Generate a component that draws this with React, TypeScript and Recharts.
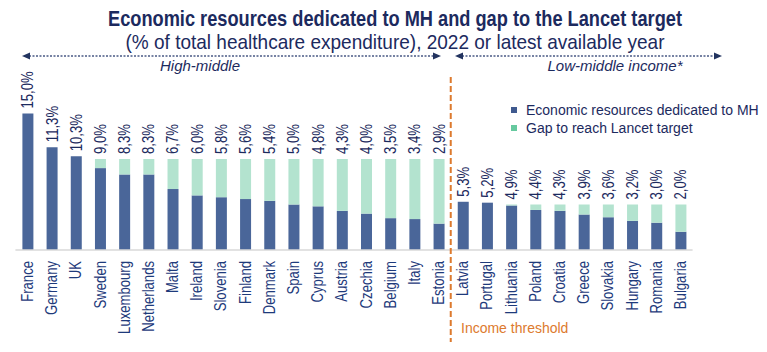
import React from "react";
import { BarChart, Bar, XAxis, YAxis, LabelList } from "recharts";

const categories = [
  "France", "Germany", "UK", "Sweden", "Luxembourg", "Netherlands", "Malta", "Ireland", "Slovenia",
  "Finland", "Denmark", "Spain", "Cyprus", "Austria", "Czechia", "Belgium", "Italy", "Estonia",
  "Latvia", "Portugal", "Lithuania", "Poland", "Croatia", "Greece", "Slovakia", "Hungary", "Romania", "Bulgaria",
];
const mhValues = [
  15.0, 11.3, 10.3, 9.0, 8.3, 8.3, 6.7, 6.0, 5.8, 5.6, 5.4, 5.0, 4.8, 4.3, 4.0, 3.5, 3.4, 2.9,
  5.3, 5.2, 4.9, 4.4, 4.3, 3.9, 3.6, 3.2, 3.0, 2.0,
];
const gapValues = [
  0, 0, 0, 1.0, 1.7, 1.7, 3.3, 4.0, 4.2, 4.4, 4.6, 5.0, 5.2, 5.7, 6.0, 6.5, 6.6, 7.1,
  0, 0, 0.1, 0.6, 0.7, 1.1, 1.4, 1.8, 2.0, 3.0,
];
const seriesNames = ["Economic resources dedicated to MH", "Gap to reach Lancet target"];
const titleText = "Economic resources dedicated to MH and gap to the Lancet target";
const subtitleText = "(% of total healthcare expenditure), 2022 or latest available year";
const groupLabels = ["High-middle", "Low-middle income*"];
const thresholdLabel = "Income threshold";
const highMiddleCount = 18;

const fmt = (v: number) => v.toFixed(1).replace(".", ",") + "%";
const data = categories.map((c, i) => ({
  country: c,
  mh: mhValues[i],
  gap: gapValues[i],
  label: fmt(mhValues[i]),
}));

const W = 767;
const H = 352;
const M = { top: 113.5, right: 74.4, bottom: 2, left: 15.4 };
const band = (W - M.left - M.right) / categories.length;
const thresholdX = M.left + highMiddleCount * band;

const BLUE = "#4a6699";
const GREEN = "#b3e3cf";
const NAVY = "#1c2a5e";
const TICK = "#1e3a7b";
const ORANGE = "#dd7a2e";
const FONT = "'Liberation Sans', Arial, sans-serif";
const SQUEEZE = 0.82;

const CatTick = (props: any) => {
  const { x, y, payload } = props;
  const ty = Number(y) + 3;
  return (
    <text
      x={0}
      y={0}
      transform={`translate(${x}, ${ty}) rotate(-90) scale(${SQUEEZE}, 1)`}
      textAnchor="end"
      dominantBaseline="central"
      fontSize={16}
      fontFamily={FONT}
      fill={TICK}
    >
      {payload.value}
    </text>
  );
};

const ValueLabel = (props: any) => {
  const { x, y, width, height, index } = props;
  const mh = data[index].mh;
  const gap = data[index].gap;
  const perUnit = Number(height) / mh;
  const top = Number(y) - gap * perUnit;
  const cx = Number(x) + Number(width) / 2;
  const cy = top - 5;
  return (
    <text
      x={0}
      y={0}
      transform={`translate(${cx}, ${cy}) rotate(-90) scale(${SQUEEZE}, 1)`}
      textAnchor="start"
      dominantBaseline="central"
      fontSize={16}
      fontFamily={FONT}
      fill={NAVY}
    >
      {data[index].label}
    </text>
  );
};

const Arrow = ({ x1, x2, y }: { x1: number; x2: number; y: number }) => (
  <g>
    <line x1={x1 + 7} x2={x2 - 7} y1={y} y2={y} stroke="#4a5a85" strokeWidth={1.3} strokeDasharray="2 1.5" />
    <polygon points={`${x1},${y} ${x1 + 8},${y - 3.5} ${x1 + 8},${y + 3.5}`} fill="#22335f" />
    <polygon points={`${x2},${y} ${x2 - 8},${y - 3.5} ${x2 - 8},${y + 3.5}`} fill="#22335f" />
  </g>
);

export default function App() {
  return (
    <div style={{ position: "absolute", left: 0, top: 0, width: W, height: H, background: "#fff" }}>
      <BarChart width={W} height={H} data={data} margin={M} barSize={11}>
        <XAxis
          dataKey="country"
          interval={0}
          tickLine={false}
          axisLine={{ stroke: "#d9d9d9", strokeWidth: 1.5 }}
          height={100}
          tick={<CatTick />}
        />
        <YAxis hide domain={[0, 15]} />
        <Bar dataKey="mh" name={seriesNames[0]} stackId="a" fill={BLUE} isAnimationActive={false}>
          <LabelList dataKey="label" content={<ValueLabel />} />
        </Bar>
        <Bar dataKey="gap" name={seriesNames[1]} stackId="a" fill={GREEN} isAnimationActive={false} />
      </BarChart>
      <svg
        width={W}
        height={H}
        style={{ position: "absolute", left: 0, top: 0, pointerEvents: "none" }}
        fontFamily={FONT}
      >
        <text x={395} y={26} textAnchor="middle" fontSize={22} fontWeight="bold" fill={NAVY}
          textLength={574} lengthAdjust="spacingAndGlyphs">
          {titleText}
        </text>
        <text x={395} y={49} textAnchor="middle" fontSize={21} fill={NAVY}
          textLength={539} lengthAdjust="spacingAndGlyphs">
          {subtitleText}
        </text>
        <Arrow x1={22} x2={441} y={56} />
        <Arrow x1={455} x2={722} y={56} />
        <text x={200} y={71} textAnchor="middle" fontSize={15} fontStyle="italic" fill={NAVY}>
          {groupLabels[0]}
        </text>
        <text x={615} y={71} textAnchor="middle" fontSize={15} fontStyle="italic" fill={NAVY}>
          {groupLabels[1]}
        </text>
        <line x1={thresholdX} x2={thresholdX} y1={77} y2={342} stroke={ORANGE} strokeWidth={2} strokeDasharray="6 3" />
        <text x={461} y={333} fontSize={14} fill={ORANGE}>
          {thresholdLabel}
        </text>
        <rect x={511} y={107} width={6} height={6} fill="#3f5a8f" />
        <text x={526} y={115} fontSize={14} fill={NAVY}>{seriesNames[0]}</text>
        <rect x={511} y={125} width={6} height={6} fill="#66c99f" />
        <text x={526} y={133} fontSize={14} fill={NAVY}>{seriesNames[1]}</text>
      </svg>
    </div>
  );
}
